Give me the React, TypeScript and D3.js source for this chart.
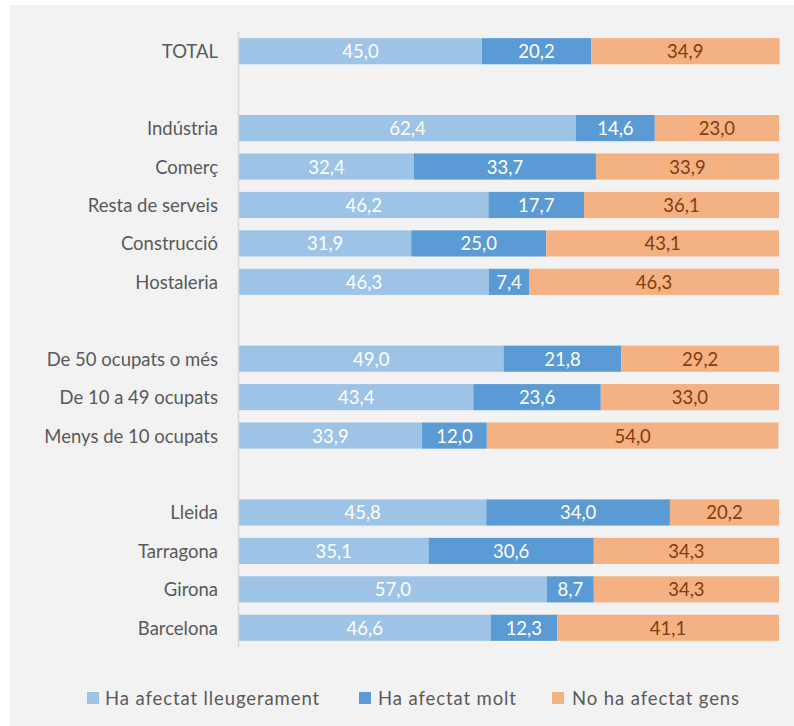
import React from "react";
import * as d3 from "d3";

const categories = [
  "TOTAL", "", "Indústria", "Comerç", "Resta de serveis", "Construcció", "Hostaleria", " ",
  "De 50 ocupats o més", "De 10 a 49 ocupats", "Menys de 10 ocupats", "  ",
  "Lleida", "Tarragona", "Girona", "Barcelona",
];
const lleugerament = [45.0, null, 62.4, 32.4, 46.2, 31.9, 46.3, null, 49.0, 43.4, 33.9, null, 45.8, 35.1, 57.0, 46.6];
const molt = [20.2, null, 14.6, 33.7, 17.7, 25.0, 7.4, null, 21.8, 23.6, 12.0, null, 34.0, 30.6, 8.7, 12.3];
const gens = [34.9, null, 23.0, 33.9, 36.1, 43.1, 46.3, null, 29.2, 33.0, 54.0, null, 20.2, 34.3, 34.3, 41.1];
const seriesNames = ["Ha afectat lleugerament", "Ha afectat molt", "No ha afectat gens"];
const colors = ["#9DC3E6", "#5B9BD5", "#F4B183"];
const labelColors = ["#FFFFFF", "#FFFFFF", "#843C0C"];

const W = 794, H = 726;
const FONT = "Lato, 'Open Sans', sans-serif";

export default function App() {
  const x = d3.scaleLinear().domain([0, 100]).range([239, 779]);
  const y = d3.scaleBand<string>().domain(categories).range([32, 647]).paddingInner(0.32).paddingOuter(0.16);
  const series = [lleugerament, molt, gens];
  const fmt = (v: number) => v.toFixed(1).replace(".", ",");

  const rows = categories.map((c, i) => {
    if (lleugerament[i] == null) return null;
    let acc = 0;
    const segs = series.map((s, k) => {
      const v = s[i] as number;
      const x0 = acc;
      acc += v;
      return { k, v, x0, x1: acc };
    });
    return { c, segs };
  });

  const legendItems = [
    { x: 87, tx: 105 },
    { x: 359, tx: 378 },
    { x: 552, tx: 572 },
  ];

  return (
    <svg width={W} height={H} style={{ display: "block", position: "absolute", left: 0, top: 0 }}>
      <rect x={10} y={5} width={W - 10} height={H - 5} fill="#F2F2F2" />
      {rows.map((r, i) =>
        r ? (
          <g key={i}>
            <text
              x={218}
              y={(y(r.c) as number) + y.bandwidth() / 2}
              textAnchor="end"
              dominantBaseline="central"
              fontFamily={FONT}
              fontSize={18.5}
              fill="#595959"
            >
              {r.c}
            </text>
            {r.segs.map((s) => (
              <g key={s.k}>
                <rect
                  x={x(s.x0)}
                  y={y(r.c) as number}
                  width={x(s.x1) - x(s.x0)}
                  height={y.bandwidth()}
                  fill={colors[s.k]}
                />
                <text
                  x={(x(s.x0) + x(s.x1)) / 2}
                  y={(y(r.c) as number) + y.bandwidth() / 2}
                  textAnchor="middle"
                  dominantBaseline="central"
                  fontFamily={FONT}
                  fontSize={18.5}
                  fill={labelColors[s.k]}
                >
                  {fmt(s.v)}
                </text>
              </g>
            ))}
          </g>
        ) : null
      )}
      <line x1={238.5} x2={238.5} y1={32} y2={647} stroke="#D9D9D9" strokeWidth={1.5} />
      {legendItems.map((l, k) => (
        <g key={k}>
          <rect x={l.x} y={692} width={12} height={12} fill={colors[k]} />
          <text x={l.tx} y={698} dominantBaseline="central" fontFamily={FONT} fontSize={18.5} letterSpacing={0.9} fill="#595959">
            {seriesNames[k]}
          </text>
        </g>
      ))}
    </svg>
  );
}
